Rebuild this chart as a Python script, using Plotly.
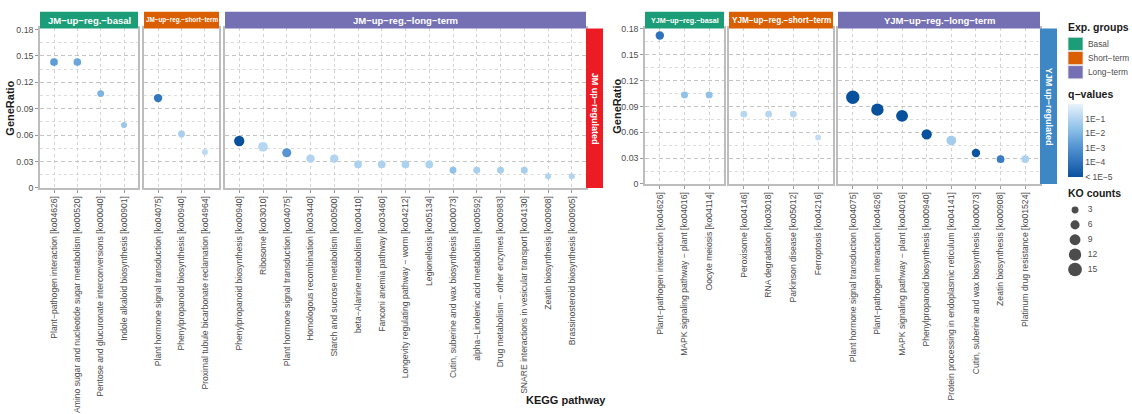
import plotly.graph_objects as go

# ---------------- data ----------------
jm_basal_pathways = ["Plant−pathogen interaction [ko04626]",
                     "Amino sugar and nucleotide sugar metabolism [ko00520]",
                     "Pentose and glucuronate interconversions [ko00040]",
                     "Indole alkaloid biosynthesis [ko00901]"]
jm_basal_ratio = [0.1429, 0.1429, 0.1071, 0.0714]
jm_basal_counts = [4, 4, 3, 2]
jm_basal_logq = [-2.7, -2.4, -2.1, -1.5]

jm_short_pathways = ["Plant hormone signal transduction [ko04075]",
                     "Phenylpropanoid biosynthesis [ko00940]",
                     "Proximal tubule bicarbonate reclamation [ko04964]"]
jm_short_ratio = [0.1020, 0.0612, 0.0408]
jm_short_counts = [5, 3, 2]
jm_short_logq = [-3.8, -1.2, -0.8]

jm_long_pathways = ["Phenylpropanoid biosynthesis [ko00940]",
                    "Ribosome [ko03010]",
                    "Plant hormone signal transduction [ko04075]",
                    "Homologous recombination [ko03440]",
                    "Starch and sucrose metabolism [ko00500]",
                    "beta−Alanine metabolism [ko00410]",
                    "Fanconi anemia pathway [ko03460]",
                    "Longevity regulating pathway − worm [ko04212]",
                    "Legionellosis [ko05134]",
                    "Cutin, suberine and wax biosynthesis [ko00073]",
                    "alpha−Linolenic acid metabolism [ko00592]",
                    "Drug metabolism − other enzymes [ko00983]",
                    "SNARE interactions in vesicular transport [ko04130]",
                    "Zeatin biosynthesis [ko00908]",
                    "Brassinosteroid biosynthesis [ko00905]"]
jm_long_ratio = [0.0533, 0.0467, 0.0400, 0.0333, 0.0333, 0.0267, 0.0267, 0.0267,
                 0.0267, 0.0200, 0.0200, 0.0200, 0.0200, 0.0133, 0.0133]
jm_long_counts = [8, 7, 6, 5, 5, 4, 4, 4, 4, 3, 3, 3, 3, 2, 2]
jm_long_logq = [-5.0, -0.9, -2.9, -1.0, -1.0, -1.1, -1.1, -1.1, -1.1, -1.7,
                -1.2, -1.2, -1.2, -1.0, -1.0]

yjm_basal_pathways = ["Plant−pathogen interaction [ko04626]",
                      "MAPK signaling pathway − plant [ko04016]",
                      "Oocyte meiosis [ko04114]"]
yjm_basal_ratio = [0.1724, 0.1034, 0.1034]
yjm_basal_counts = [5, 3, 3]
yjm_basal_logq = [-4.0, -1.7, -1.7]

yjm_short_pathways = ["Peroxisome [ko04146]",
                      "RNA degradation [ko03018]",
                      "Parkinson disease [ko05012]",
                      "Ferroptosis [ko04216]"]
yjm_short_ratio = [0.0811, 0.0811, 0.0811, 0.0541]
yjm_short_counts = [3, 3, 3, 2]
yjm_short_logq = [-0.9, -0.9, -0.9, -0.7]

yjm_long_pathways = ["Plant hormone signal transduction [ko04075]",
                     "Plant−pathogen interaction [ko04626]",
                     "MAPK signaling pathway − plant [ko04016]",
                     "Phenylpropanoid biosynthesis [ko00940]",
                     "Protein processing in endoplasmic reticulum [ko04141]",
                     "Cutin, suberine and wax biosynthesis [ko00073]",
                     "Zeatin biosynthesis [ko00908]",
                     "Platinum drug resistance [ko01524]"]
yjm_long_ratio = [0.1007, 0.0863, 0.0791, 0.0576, 0.0504, 0.0360, 0.0288, 0.0288]
yjm_long_counts = [14, 12, 11, 8, 7, 5, 4, 4]
yjm_long_logq = [-5.0, -5.0, -5.0, -5.0, -1.3, -4.9, -3.7, -1.1]

group_labels = ["Basal", "Short−term", "Long−term"]
size_legend_counts = [3, 6, 9, 12, 15]
qvalue_tickvals = [-1, -2, -3, -4, -5]
qvalue_ticktext = ["1E−1", "1E−2", "1E−3", "1E−4", "< 1E−5"]

# ---------------- style ----------------
W, H = 1132, 414
FONT = "Liberation Sans, Arial, sans-serif"
GREY = "#4d4d4d"
group_colors = ["#1b9e77", "#d95f02", "#7570b3"]
colorscale = [[0.0, "#08519c"], [0.2, "#2f72bc"], [0.45, "#5b9ad4"],
              [0.65, "#8cc0e8"], [0.82, "#b7d7f1"], [1.0, "#eaf3fb"]]


def fx(x):
    return x / W


def fy(y):
    return 1 - y / H


def msize(c):
    return (12.5 + 11.75 * c) ** 0.5


panels = [
    dict(cats=jm_basal_pathways, r=jm_basal_ratio, n=jm_basal_counts, q=jm_basal_logq,
         x0=40, x1=138, top=25, bot=188, ymax=0.1811, strip="JM−up−reg.−basal", g=0, fs=9.5, first=True),
    dict(cats=jm_short_pathways, r=jm_short_ratio, n=jm_short_counts, q=jm_short_logq,
         x0=144, x1=219, top=25, bot=188, ymax=0.1811, strip="JM−up−reg.−short−term", g=1, fs=6.3, first=False),
    dict(cats=jm_long_pathways, r=jm_long_ratio, n=jm_long_counts, q=jm_long_logq,
         x0=225, x1=586, top=25, bot=188, ymax=0.1811, strip="JM−up−reg.−long−term", g=2, fs=9.5, first=False),
    dict(cats=yjm_basal_pathways, r=yjm_basal_ratio, n=yjm_basal_counts, q=yjm_basal_logq,
         x0=645, x1=724, top=25, bot=184, ymax=0.1805, strip="YJM−up−reg.−basal", g=0, fs=7.2, first=True),
    dict(cats=yjm_short_pathways, r=yjm_short_ratio, n=yjm_short_counts, q=yjm_short_logq,
         x0=729, x1=833, top=25, bot=184, ymax=0.1805, strip="YJM−up−reg.−short−term", g=1, fs=8.2, first=False),
    dict(cats=yjm_long_pathways, r=yjm_long_ratio, n=yjm_long_counts, q=yjm_long_logq,
         x0=838, x1=1040, top=25, bot=184, ymax=0.1805, strip="YJM−up−reg.−long−term", g=2, fs=9.5, first=False),
]

fig = go.Figure()
shapes = []
annotations = []
layout = {}

for i, p in enumerate(panels):
    k = "" if i == 0 else str(i + 1)
    fig.add_trace(go.Scatter(
        x=p["cats"], y=p["r"], mode="markers",
        xaxis="x" + k, yaxis="y" + k,
        marker=dict(size=[msize(c) for c in p["n"]], color=p["q"],
                    coloraxis="coloraxis", line=dict(width=0), opacity=1),
        showlegend=False, hoverinfo="x+y"))
    nc = len(p["cats"])
    layout["xaxis" + k] = dict(
        domain=[fx(p["x0"]), fx(p["x1"])], anchor="y" + k, type="category",
        categoryorder="array", categoryarray=p["cats"],
        range=[-0.6, nc - 1 + 0.6], showgrid=True, gridcolor="#d2d2d2",
        griddash="dot", gridwidth=1, zeroline=False,
        showline=True, mirror=True, linecolor="#bdbdbd", linewidth=1.5,
        ticks="outside", ticklen=3, tickcolor="#9a9a9a", tickangle=-90,
        tickfont=dict(size=8.6, color=GREY, family=FONT), fixedrange=True)
    layout["yaxis" + k] = dict(
        domain=[fy(p["bot"]), fy(p["top"])], anchor="x" + k,
        range=[0, p["ymax"]], dtick=0.03, tick0=0,
        showgrid=True, gridcolor="#c4c4c4", griddash="4px,3px", gridwidth=1,
        minor=dict(tick0=0.015, dtick=0.03, showgrid=True, gridcolor="#dcdcdc",
                   griddash="dot", gridwidth=1),
        zeroline=False, showline=True, mirror=True, linecolor="#bdbdbd", linewidth=1.5,
        showticklabels=p["first"], ticks="outside" if p["first"] else "",
        ticklen=3, tickcolor="#9a9a9a",
        tickfont=dict(size=8.8, color=GREY, family=FONT), fixedrange=True)
    # top facet strip
    shapes.append(dict(type="rect", xref="paper", yref="paper",
                       x0=fx(p["x0"]), x1=fx(p["x1"]), y0=fy(25), y1=fy(8),
                       fillcolor=group_colors[p["g"]], line=dict(width=0), layer="above"))
    annotations.append(dict(xref="paper", yref="paper", x=fx((p["x0"] + p["x1"]) / 2),
                            y=fy(16.5), text="<b>%s</b>" % p["strip"], showarrow=False,
                            font=dict(size=p["fs"], color="white", family=FONT),
                            xanchor="center", yanchor="middle"))

# right-hand row strips
row_strips = [(586, 603, 25, 188, "#ed1c24", "JM up−regulated"),
              (1040, 1057, 25, 184, "#3d87c5", "YJM up−regulated")]
for x0, x1, y0, y1, col, txt in row_strips:
    shapes.append(dict(type="rect", xref="paper", yref="paper", x0=fx(x0), x1=fx(x1),
                       y0=fy(y1), y1=fy(y0), fillcolor=col, line=dict(width=0)))
    annotations.append(dict(xref="paper", yref="paper", x=fx((x0 + x1) / 2),
                            y=fy((y0 + y1) / 2), text="<b>%s</b>" % txt, textangle=90,
                            xanchor="center", yanchor="middle",
                            showarrow=False, font=dict(size=9, color="white", family=FONT)))

# axis titles
for x, y in [(10, 107), (617, 105)]:
    annotations.append(dict(xref="paper", yref="paper", x=fx(x), y=fy(y),
                            text="<b>GeneRatio</b>", textangle=-90, showarrow=False,
                            xanchor="center", yanchor="middle",
                            font=dict(size=11, color="#1a1a1a", family=FONT)))
annotations.append(dict(xref="paper", yref="paper", x=fx(566), y=fy(405),
                        text="<b>KEGG pathway</b>", showarrow=False,
                        xanchor="center", yanchor="middle",
                        font=dict(size=11, color="#1a1a1a", family=FONT)))

# legend: Exp. groups
annotations.append(dict(xref="paper", yref="paper", x=fx(1066), y=fy(23),
                        text="<b>Exp. groups</b>", showarrow=False, xanchor="left",
                        yanchor="middle", font=dict(size=10.5, color="#1a1a1a", family=FONT)))
key_tops = [34, 48.5, 63]
for lab, col, yt in zip(group_labels, group_colors, key_tops):
    shapes.append(dict(type="rect", xref="paper", yref="paper", x0=fx(1068), x1=fx(1083),
                       y0=fy(yt + 13.5), y1=fy(yt), fillcolor=col,
                       line=dict(color="#e8e8e8", width=0.8)))
    annotations.append(dict(xref="paper", yref="paper", x=fx(1086), y=fy(yt + 6.8),
                            text=lab, showarrow=False, xanchor="left", yanchor="middle",
                            font=dict(size=8.3, color=GREY, family=FONT)))

# legend: q-values
annotations.append(dict(xref="paper", yref="paper", x=fx(1066), y=fy(92),
                        text="<b>q−values</b>", showarrow=False, xanchor="left",
                        yanchor="middle", font=dict(size=10.5, color="#1a1a1a", family=FONT)))
layout["coloraxis"] = dict(
    colorscale=colorscale, cmin=-5, cmax=0,
    colorbar=dict(x=fx(1068), xanchor="left", xpad=0, ypad=0,
                  y=fy(139.5), yanchor="middle", len=75 / H, lenmode="fraction",
                  thickness=15, thicknessmode="pixels", outlinewidth=0,
                  tickvals=qvalue_tickvals, ticktext=qvalue_ticktext, ticks="",
                  tickfont=dict(size=8.5, color=GREY, family=FONT), title=dict(text="")))

# legend: KO counts
annotations.append(dict(xref="paper", yref="paper", x=fx(1066), y=fy(193),
                        text="<b>KO counts</b>", showarrow=False, xanchor="left",
                        yanchor="middle", font=dict(size=10.5, color="#1a1a1a", family=FONT)))
pos = list(range(len(size_legend_counts), 0, -1))
fig.add_trace(go.Scatter(x=[0.22] * len(size_legend_counts), y=pos, mode="markers",
                         xaxis="x7", yaxis="y7",
                         marker=dict(size=[msize(c) for c in size_legend_counts],
                                     color="black", line=dict(width=0)),
                         showlegend=False, hoverinfo="skip"))
fig.add_trace(go.Scatter(x=[0.62] * len(size_legend_counts), y=pos, mode="text",
                         text=[str(c) for c in size_legend_counts], textposition="middle right",
                         textfont=dict(size=8.5, color=GREY, family=FONT),
                         xaxis="x7", yaxis="y7", showlegend=False, hoverinfo="skip"))
layout["xaxis7"] = dict(domain=[fx(1068), fx(1100)], range=[0, 1], anchor="y7",
                        visible=False, fixedrange=True)
layout["yaxis7"] = dict(domain=[fy(279), fy(203)], range=[0.5, 5.5], anchor="x7",
                        visible=False, fixedrange=True)

fig.update_layout(
    width=W, height=H, margin=dict(l=0, r=0, t=0, b=0),
    paper_bgcolor="white", plot_bgcolor="white",
    font=dict(family=FONT, color=GREY),
    shapes=shapes, annotations=annotations, showlegend=False, **layout)

fig.write_html("out.html", config={"displayModeBar": False},
               post_script="document.body.style.margin='0';document.body.style.overflow='hidden';")
